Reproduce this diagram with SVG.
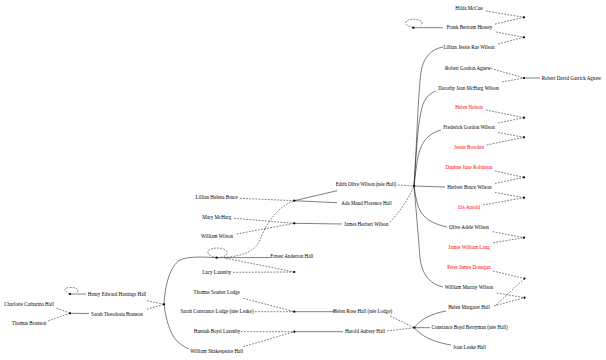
<svg xmlns="http://www.w3.org/2000/svg" width="606" height="360" viewBox="0 0 606 360">
<style>
text{font-family:"Liberation Serif","Times New Roman",serif;font-size:5.05px;text-anchor:middle;fill:#000}
text.r{fill:#ff0000}
.s{fill:none;stroke:#000;stroke-width:0.5}
.d{fill:none;stroke:#000;stroke-width:0.5;stroke-dasharray:1.8,1.3}
.f{fill:#000}
</style>
<rect width="606" height="360" fill="#fff"/>
<g id="connectors">
<!-- top right families -->
<path class="d" d="M486,11 L524,17.3"/>
<path class="d" d="M495,24 L524,17.3"/>
<path class="d" d="M496,32 L524,37.3"/>
<path class="d" d="M498,44 L524,37.3"/>
<path class="d" d="M491,68.5 L524,78"/>
<path class="d" d="M502,82 L524,78"/>
<path class="s" d="M524,78 L540,78"/>
<path class="d" d="M486,110 L524,117.7"/>
<path class="d" d="M498,123 L524,117.7"/>
<path class="d" d="M498,132.5 L524,137.3"/>
<path class="d" d="M486.7,145 L524,137.3"/>
<path class="d" d="M495,171 L524,177.3"/>
<path class="d" d="M495,183.5 L524,177.3"/>
<path class="d" d="M495,192.5 L524,197.7"/>
<path class="d" d="M483,205 L524,197.7"/>
<path class="d" d="M492.7,231.7 L524,237.7"/>
<path class="d" d="M493.3,242.7 L524,237.7"/>
<path class="d" d="M493,271 L524.5,278.5"/>
<path class="d" d="M496.7,293 L524.5,297.7"/>
<path class="d" d="M494,306 L524.5,297.7"/>
<path class="d" d="M496,305 L524.5,278.5"/>
<!-- Frank loop -->
<path class="d" d="M413.3,27.7 C405,26 403,21 410,19.5 C418,18.5 425,21 421,25.5"/>
<path class="s" d="M413.3,27.7 L443,27.7"/>
<!-- Wilson family -->
<path class="d" d="M398,185 L414,186"/>
<path class="d" d="M390,222 C398,214 408,200 414,186"/>
<path class="s" d="M414,186 C417,140 418,95 421,72 C423,58 431,49 443,47"/>
<path class="s" d="M414,186 C416,160 417,130 421,112 C423,100 428,94 436,91"/>
<path class="s" d="M414,186 C416,170 417,158 420,150 C423,140 430,133 441,130"/>
<path class="s" d="M414,186 L445,187"/>
<path class="s" d="M414,186 C416,200 418,210 424,216 C430,222 438,225 447,227"/>
<path class="s" d="M414,186 C417,220 419,245 420,258 C422,275 430,284 443,287"/>
<!-- Bruce family -->
<path class="d" d="M240,198.3 L294.3,200.7"/>
<path class="d" d="M224,257.5 C245,256 256,250 260,240 C265,225 278,206 294.3,200.7"/>
<path class="s" d="M294.3,200.7 L337,190.7"/>
<path class="s" d="M294.3,200.7 L337,202.7"/>
<!-- McHarg family -->
<path class="d" d="M234,218.3 L294.3,223.3"/>
<path class="d" d="M236.7,234 L294.3,223.3"/>
<path class="s" d="M294.3,223.3 L342,224"/>
<!-- Ernest -->
<path class="d" d="M216.7,257.7 C208,256 205,251 211,249 C217,247 226,248 227,252 C228,255 224,257 219,257.7"/>
<path class="s" d="M216.7,257.7 L270,257.5"/>
<path class="d" d="M226,258.3 L294.3,272"/>
<path class="d" d="M233.3,272.3 L294.3,272"/>
<path class="s" d="M164,304.3 C165,285 170,266 180,260 C188,256 205,257 216.7,257.7"/>
<path class="s" d="M164,304.3 C166,320 170,333 176,340 C180,344 184,347 189,349"/>
<!-- Henry / Sarah -->
<path class="d" d="M147,300.7 L164,304.3"/>
<path class="d" d="M147,309.3 L164,304.3"/>
<path class="d" d="M70,294 C64,292 63,288 69,287.5 C75,287 80,289 77,292.5"/>
<path class="s" d="M70,294 L86,294"/>
<path class="d" d="M56.7,308 L70,313.3"/>
<path class="d" d="M48,321 L70,313.3"/>
<path class="s" d="M70,313.3 L89,313.5"/>
<!-- Lodge family -->
<path class="d" d="M243.3,298.3 L294.3,311.7"/>
<path class="d" d="M255,311.7 L294.3,311.7"/>
<path class="s" d="M294.3,311.7 L335,311.7"/>
<!-- Hall family -->
<path class="d" d="M241,331.7 L294.3,331.7"/>
<path class="d" d="M243.3,346.7 L294.3,331.7"/>
<path class="s" d="M294.3,331.7 L343,331.7"/>
<!-- Harold family -->
<path class="d" d="M390,316 L414.3,327.7"/>
<path class="d" d="M387,331 L414.3,327.7"/>
<path class="s" d="M414.3,327.7 C420,320 430,314 446,311"/>
<path class="s" d="M414.3,327.7 L430,327.7"/>
<path class="s" d="M414.3,327.7 C420,335 432,342 451,345"/>
</g>
<g id="families">
<g id="fam-mccue"><circle class="f" cx="524" cy="17.3" r="1.1"/></g>
<g id="fam-hussey-wilson"><circle class="f" cx="524" cy="37.3" r="1.1"/></g>
<g id="fam-agnew"><circle class="f" cx="524" cy="78" r="1.1"/></g>
<g id="fam-nelson"><circle class="f" cx="524" cy="117.7" r="1.1"/></g>
<g id="fam-bowden"><circle class="f" cx="524" cy="137.3" r="1.1"/></g>
<g id="fam-robinson"><circle class="f" cx="524" cy="177.3" r="1.1"/></g>
<g id="fam-arnold"><circle class="f" cx="524" cy="197.7" r="1.1"/></g>
<g id="fam-lang"><circle class="f" cx="524" cy="237.7" r="1.1"/></g>
<g id="fam-donegan"><circle class="f" cx="524.5" cy="278.5" r="1.1"/></g>
<g id="fam-wmw"><circle class="f" cx="524.5" cy="297.7" r="1.1"/></g>
<g id="fam-frank"><circle class="f" cx="413.3" cy="27.7" r="1.1"/></g>
<g id="fam-wilson"><circle class="f" cx="414" cy="186" r="1.1"/></g>
<g id="fam-bruce"><circle class="f" cx="294.3" cy="200.7" r="1.1"/></g>
<g id="fam-mcharg"><circle class="f" cx="294.3" cy="223.3" r="1.1"/></g>
<g id="fam-ernest"><circle class="f" cx="216.7" cy="257.7" r="1.1"/></g>
<g id="fam-lazenby"><circle class="f" cx="294.3" cy="272" r="1.1"/></g>
<g id="fam-henry-sarah"><circle class="f" cx="164" cy="304.3" r="1.1"/></g>
<g id="fam-henry"><circle class="f" cx="70" cy="294" r="1.1"/></g>
<g id="fam-branson"><circle class="f" cx="70" cy="313.3" r="1.1"/></g>
<g id="fam-lodge"><circle class="f" cx="294.3" cy="311.7" r="1.1"/></g>
<g id="fam-hall"><circle class="f" cx="294.3" cy="331.7" r="1.1"/></g>
<g id="fam-harold"><circle class="f" cx="414.3" cy="327.7" r="1.1"/></g>
</g>
<g id="people">
<g id="p-hilda"><text x="469" y="9.7">Hilda McCue</text></g>
<g id="p-frank"><text x="469.5" y="29.4">Frank Bertram Hussey</text></g>
<g id="p-lillian-jrw"><text x="469" y="49.3">Lillian Jessie Rae Wilson</text></g>
<g id="p-rga"><text x="468" y="70">Robert Gordon Agnew</text></g>
<g id="p-rdga"><text x="571.5" y="79.7">Robert David Garrick Agnew</text></g>
<g id="p-dorothy"><text x="468.5" y="89.6">Dorothy Jean McHarg Wilson</text></g>
<g id="p-nelson"><text class="r" x="469" y="109.4">Helen Nelson</text></g>
<g id="p-frederick"><text x="469" y="129.4">Frederick Gordon Wilson</text></g>
<g id="p-bowden"><text class="r" x="469" y="149">Jessie Bowden</text></g>
<g id="p-daphne"><text class="r" x="469" y="169">Daphne June Robinson</text></g>
<g id="p-herbert"><text x="469.5" y="189">Herbert Bruce Wilson</text></g>
<g id="p-iris"><text class="r" x="469" y="209">Iris Arnold</text></g>
<g id="p-olive"><text x="469" y="229">Olive Adele Wilson</text></g>
<g id="p-lang"><text class="r" x="469" y="249">James William Lang</text></g>
<g id="p-donegan"><text class="r" x="469" y="269.4">Peter James Donegan</text></g>
<g id="p-wmw"><text x="469" y="289.4">William Murray Wilson</text></g>
<g id="p-hmh"><text x="469" y="308.7">Helen Margaret Hall</text></g>
<g id="p-constance"><text x="469.5" y="328.7">Constance Boyd Berryman (née Hall)</text></g>
<g id="p-joan"><text x="469.5" y="348.7">Joan Leake Hall</text></g>
<g id="p-edith"><text x="366" y="186">Edith Olive Wilson (née Hall)</text></g>
<g id="p-ada"><text x="366.5" y="205.4">Ada Maud Florence Hall</text></g>
<g id="p-jhw"><text x="366.3" y="225.7">James Herbert Wilson</text></g>
<g id="p-hrh"><text x="362.5" y="313.4">Helen Rose Hall (née Lodge)</text></g>
<g id="p-harold"><text x="365" y="333.4">Harold Aubrey Hall</text></g>
<g id="p-lhb"><text x="216.7" y="199">Lillian Helena Bruce</text></g>
<g id="p-mary"><text x="216.7" y="218.7">Mary McHarg</text></g>
<g id="p-ww"><text x="217" y="238.4">William Wilson</text></g>
<g id="p-ernest"><text x="291.8" y="258.4">Ernest Anderton Hall</text></g>
<g id="p-lucy"><text x="216.7" y="274">Lucy Lazenby</text></g>
<g id="p-tsl"><text x="216.7" y="293.7">Thomas Soutter Lodge</text></g>
<g id="p-scl"><text x="217" y="313.4">Sarah Constance Lodge (née Leake)</text></g>
<g id="p-hbl"><text x="217" y="333.4">Hannah Boyd Lazenby</text></g>
<g id="p-wsh"><text x="216.7" y="353.4">William Shakespeare Hall</text></g>
<g id="p-hehh"><text x="117" y="295.7">Henry Edward Hastings Hall</text></g>
<g id="p-stb"><text x="117" y="315.7">Sarah Theodosia Branson</text></g>
<g id="p-cch"><text x="29" y="305.7">Charlotte Catharina Hall</text></g>
<g id="p-tb"><text x="29" y="325">Thomas Branson</text></g>
</g>
</svg>
